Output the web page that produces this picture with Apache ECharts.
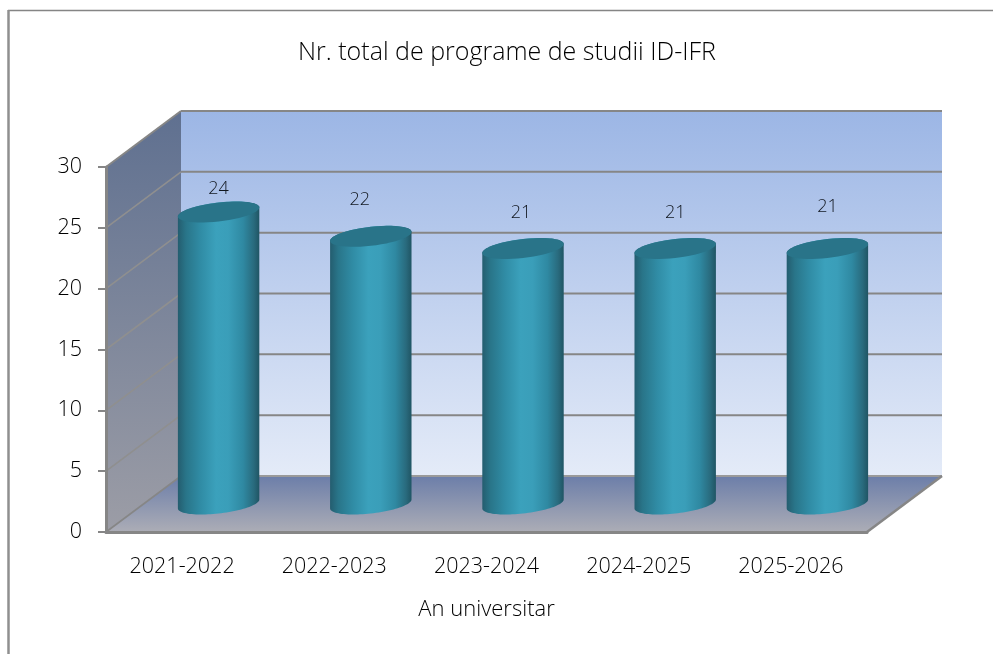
<!DOCTYPE html>
<html><head><meta charset="utf-8">
<style>html,body{margin:0;padding:0;background:#fff}#c{width:993px;height:654px}</style>
<script src="https://cdn.jsdelivr.net/npm/echarts@6/dist/echarts.min.js"></script>
</head><body><div id="c"></div>
<script>
const categories = ['2021-2022','2022-2023','2023-2024','2024-2025','2025-2026'];
const programme = [24,22,21,21,21];
const yTicks = [0,5,10,15,20,25,30];
const titleText = 'Nr. total de programe de studii ID-IFR';
const xAxisName = 'An universitar';

// styling / 3D projection constants
const DEPTH_X = 75, DEPTH_Y = -56;
const FONT = '"Open Sans", sans-serif';
const labelNudge = [[0,-23],[-11,-36],[-2,-36],[0,-36],[0,-42]];
const GRID = '#868686';
function lin(x,y,x2,y2,stops){return new echarts.graphic.LinearGradient(x,y,x2,y2,stops.map((c,i)=>({offset:c[0],color:c[1]})));}

function renderWalls(params, api){
  const r = params.coordSys;
  const L=r.x, R=r.x+r.width, T=r.y, B=r.y+r.height, dx=DEPTH_X, dy=DEPTH_Y;
  const kids=[];
  kids.push({type:'polygon',shape:{points:[[L+dx,T+dy],[R+dx,T+dy],[R+dx,B+dy],[L+dx,B+dy]]},
    style:{fill:lin(0,0,0,1,[[0,'#9CB6E5'],[1,'#E4EBF8']])}});
  kids.push({type:'polygon',shape:{points:[[L,T],[L+dx,T+dy],[L+dx,B+dy],[L,B]]},
    style:{fill:lin(0,0,0,1,[[0,'#5F7090'],[1,'#9C9DA6']])}});
  kids.push({type:'polygon',shape:{points:[[L,B],[L+dx,B+dy],[R+dx,B+dy],[R,B]]},
    style:{fill:lin(0,0,0,1,[[0,'#6C7EA9'],[1,'#ACADB6']])}});
  yTicks.forEach(v=>{
    const p=api.coord([0,v]); const y=p[1];
    kids.push({type:'line',shape:{x1:L,y1:y,x2:L+dx,y2:y+dy},style:{stroke:v===30||v===0?GRID:'#8f8f8f',lineWidth:v===30?2:1.6}});
    kids.push({type:'line',shape:{x1:L+dx,y1:y+dy,x2:R+dx,y2:y+dy},style:{stroke:v===0?'#9a9a9a':GRID,lineWidth:2}});
  });
  kids.push({type:'line',shape:{x1:R,y1:B,x2:R+dx,y2:B+dy},style:{stroke:GRID,lineWidth:2.5}});
  return {type:'group',children:kids};
}

function ellipsePts(cx,cy,a,b,s,from,to){
  const out=[]; const n=48;
  for(let i=0;i<=n;i++){const t=from+(to-from)*i/n; out.push([cx+a*Math.cos(t),cy+b*Math.sin(t)-s*Math.cos(t)]);}
  return out;
}
function renderCyl(params, api){
  const idx=api.value(0), v=api.value(1);
  const top=api.coord([idx,v]), base=api.coord([idx,0]);
  const band=api.size([1,0])[0];
  const a=band*0.2675, b=9.5, s=4.5;
  const cx=top[0]+DEPTH_X/2-1, ty=top[1]+DEPTH_Y/2, by=base[1]+DEPTH_Y/2;
  const body=ellipsePts(cx,by,a,b,s,0,Math.PI).concat(ellipsePts(cx,ty,a,b,s,Math.PI,2*Math.PI));
  const n=labelNudge[params.dataIndex];
  return {type:'group',children:[
    {type:'polygon',shape:{points:body},style:{fill:lin(0,0,1,0,[[0,'#245D6F'],[0.1,'#297589'],[0.28,'#308CA5'],[0.47,'#3BA1BC'],[0.62,'#3A9EB9'],[0.8,'#2F89A2'],[0.93,'#296B7E'],[1,'#205564']])}},
    {type:'polygon',shape:{points:ellipsePts(cx,ty,a,b,s,0,2*Math.PI)},style:{fill:'#297489'}},
    {type:'text',x:cx+n[0],y:ty+n[1],style:{text:String(v),fill:'#10161e',font:'300 18px '+FONT,align:'center',verticalAlign:'middle'}}
  ]};
}

const chart=echarts.init(document.getElementById('c'),null,{renderer:'canvas'});
chart.setOption({
  animation:false,
  backgroundColor:'#fff',
  title:{text:titleText,left:502,top:35,textAlign:'center',textStyle:{fontFamily:FONT,fontWeight:300,fontSize:25,color:'#000'}},
  grid:{left:106,right:126,top:167,bottom:122,containLabel:false},
  xAxis:{type:'category',data:categories,z:10,name:xAxisName,nameLocation:'middle',nameGap:67,
    nameTextStyle:{fontFamily:FONT,fontWeight:300,fontSize:22,color:'#000'},
    axisTick:{show:false},axisLine:{lineStyle:{color:'#868686',width:3}},
    axisLabel:{fontFamily:FONT,fontWeight:300,fontSize:21.5,color:'#000',margin:24}},
  yAxis:{type:'value',min:0,max:30,interval:5,z:10,
    axisLine:{show:true,lineStyle:{color:'#868686',width:3}},
    axisTick:{show:true,length:8,lineStyle:{color:'#868686',width:2}},
    splitLine:{show:false},
    axisLabel:{fontFamily:FONT,fontWeight:300,fontSize:21.5,color:'#000',margin:24,padding:[6,0,0,0],formatter:v=>String(v)}},
  series:[
    {type:'custom',coordinateSystem:'cartesian2d',data:[[0,0]],renderItem:renderWalls,clip:false,silent:true,z:1},
    {type:'custom',coordinateSystem:'cartesian2d',data:programme.map((v,i)=>[i,v]),renderItem:renderCyl,clip:false,silent:true,z:3,encode:{x:0,y:1}}
  ],
  graphic:[
    {type:'line',shape:{x1:8,y1:10.5,x2:993,y2:10.5},style:{stroke:'#858585',lineWidth:1.5}},
    {type:'line',shape:{x1:8.5,y1:10,x2:8.5,y2:654},style:{stroke:'#8f8f8f',lineWidth:2.5}}
  ]
});
</script></body></html>
